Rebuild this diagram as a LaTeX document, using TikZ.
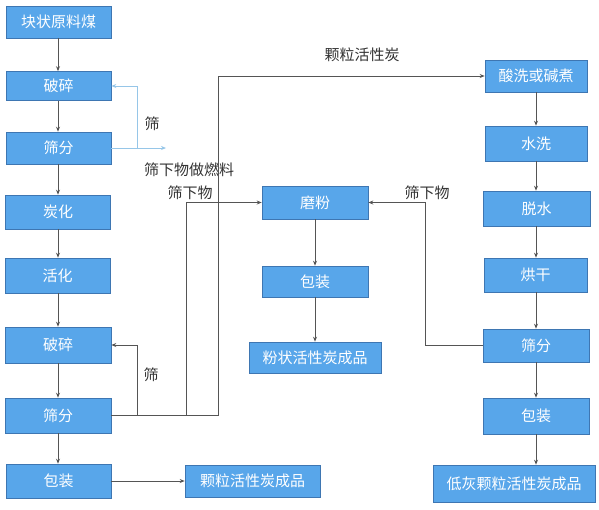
\documentclass[tikz,border=0pt]{standalone}
\usepackage{fontspec}
\setmainfont{Noto Sans CJK SC}
\usetikzlibrary{arrows.meta}
\definecolor{boxfill}{RGB}{88,166,234}
\definecolor{boxline}{RGB}{62,118,178}
\definecolor{linec}{RGB}{85,85,85}
\definecolor{lightc}{RGB}{150,198,232}
\definecolor{labelc}{RGB}{50,50,50}
\tikzset{
  pbox/.style={draw=boxline, fill=boxfill, text=white, font=\fontsize{15}{17}\selectfont, inner sep=0pt, line width=0.6pt},
  conn/.style={draw=linec, line width=0.8pt, -{Stealth[length=5pt,width=4pt]}},
  plainconn/.style={draw=linec, line width=0.8pt},
  lconn/.style={draw=lightc, line width=0.9pt, -{Stealth[length=5pt,width=4pt]}},
  lab/.style={text=labelc, font=\fontsize{15}{17}\selectfont, inner sep=0pt}
}
\begin{document}
\begin{tikzpicture}[x=1pt,y=-1pt]
\useasboundingbox (0,0) rectangle (599,509);
% left column
\node[pbox, minimum width=105pt, minimum height=32pt] (b1) at (58.5,22) {块状原料煤};
\node[pbox, minimum width=105pt, minimum height=29pt] (b2) at (58.5,86) {破碎};
\node[pbox, minimum width=105pt, minimum height=32pt] (b3) at (58.5,148) {筛分};
\node[pbox, minimum width=105pt, minimum height=34pt] (b4) at (58,212) {炭化};
\node[pbox, minimum width=105pt, minimum height=35pt] (b5) at (57.5,275.5) {活化};
\node[pbox, minimum width=106pt, minimum height=36pt] (b6) at (58,345) {破碎};
\node[pbox, minimum width=106pt, minimum height=35pt] (b7) at (58,415.5) {筛分};
\node[pbox, minimum width=105pt, minimum height=34pt] (b8) at (58.5,481) {包装};
\node[pbox, minimum width=135pt, minimum height=32pt] (b9) at (252.5,481) {颗粒活性炭成品};
% middle column
\node[pbox, minimum width=106pt, minimum height=33pt] (m1) at (315,202.5) {磨粉};
\node[pbox, minimum width=106pt, minimum height=31pt] (m2) at (315,281.5) {包装};
\node[pbox, minimum width=132pt, minimum height=31pt] (m3) at (315,357.5) {粉状活性炭成品};
% right column
\node[pbox, minimum width=102pt, minimum height=32pt] (r1) at (536,76) {酸洗或碱煮};
\node[pbox, minimum width=102pt, minimum height=35pt] (r2) at (536,143.5) {水洗};
\node[pbox, minimum width=107pt, minimum height=35pt] (r3) at (536.5,208.5) {脱水};
\node[pbox, minimum width=103pt, minimum height=34pt] (r4) at (535.5,275) {烘干};
\node[pbox, minimum width=106pt, minimum height=33pt] (r5) at (536,345.5) {筛分};
\node[pbox, minimum width=106pt, minimum height=36pt] (r6) at (536,416) {包装};
\node[pbox, minimum width=162pt, minimum height=37pt] (r7) at (514,483.5) {低灰颗粒活性炭成品};
% labels
\node[lab] (l1) at (152,124) {筛};
\node[lab] (l2) at (189,170) {筛下物做燃料};
\node[lab] (l3) at (190,193) {筛下物};
\node[lab] (l4) at (151,375) {筛};
\node[lab] (l5) at (362,55) {颗粒活性炭};
\node[lab] (l6) at (427,193) {筛下物};
% coordinates
\coordinate (c1) at (137,148);
\coordinate (fuel) at (166,148);
\coordinate (c2) at (137,415.5);
\coordinate (c3) at (186,415.5);
\coordinate (c4) at (218,415.5);
\coordinate (c5) at (425,345.5);
\coordinate (lx) at (58,0);
\coordinate (rx) at (536,0);
% left column arrows
\draw[conn] (lx |- b1.south) -- (lx |- b2.north);
\draw[conn] (lx |- b2.south) -- (lx |- b3.north);
\draw[conn] (lx |- b3.south) -- (lx |- b4.north);
\draw[conn] (lx |- b4.south) -- (lx |- b5.north);
\draw[conn] (lx |- b5.south) -- (lx |- b6.north);
\draw[conn] (lx |- b6.south) -- (lx |- b7.north);
\draw[conn] (lx |- b7.south) -- (lx |- b8.north);
\draw[conn] (b8) -- (b9);
% light blue feedback
\draw[lconn] (b3.east) -- (c1) |- (b2.east);
\draw[lconn] (c1) -- (fuel);
% lower feedback
\draw[conn] (b7.east) -- (c2) |- (b6.east);
\draw[plainconn] (c2) -- (c4);
\draw[conn] (c3) |- (m1.west);
\draw[conn] (c4) |- (r1.west);
% middle
\draw[conn] (m1) -- (m2);
\draw[conn] (m2) -- (m3);
% right column
\draw[conn] (rx |- r1.south) -- (rx |- r2.north);
\draw[conn] (rx |- r2.south) -- (rx |- r3.north);
\draw[conn] (rx |- r3.south) -- (rx |- r4.north);
\draw[conn] (rx |- r4.south) -- (rx |- r5.north);
\draw[conn] (rx |- r5.south) -- (rx |- r6.north);
\draw[conn] (rx |- r6.south) -- (rx |- r7.north);
\draw[conn] (r5.west) -- (c5) |- (m1.east);
\end{tikzpicture}
\end{document}
